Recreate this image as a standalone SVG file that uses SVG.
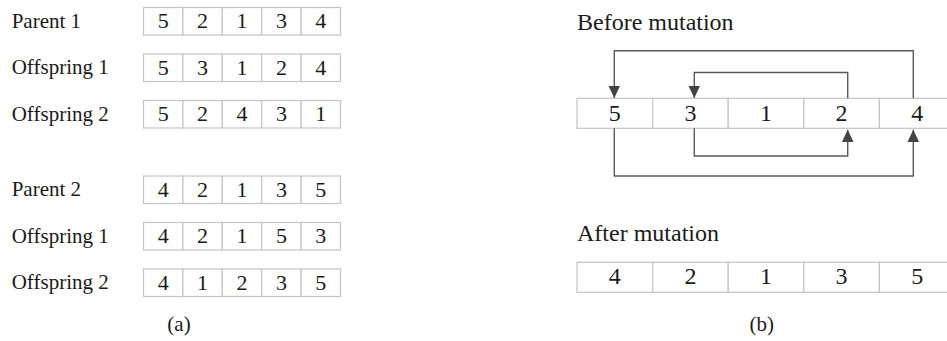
<svg xmlns="http://www.w3.org/2000/svg" width="947" height="341" viewBox="0 0 947 341">
<style>
text{font-family:"Liberation Serif","Times New Roman",serif;fill:#1a1a1a}
.lbl{font-size:21px}
.d{font-size:22px;text-anchor:middle}
.rd{font-size:24px;text-anchor:middle}
.title{font-size:24px}
.cap{font-size:21px;text-anchor:middle}
.cell{fill:#ffffff;stroke:#c4c4c4;stroke-width:1.2}
.conn{fill:none;stroke:#5a5a5a;stroke-width:1.4}
</style>
<defs>
<marker id="ah" markerUnits="userSpaceOnUse" markerWidth="13" markerHeight="12" refX="12.5" refY="6" orient="auto" viewBox="0 0 13 12">
<path d="M0,0 L12.5,6 L0,12 z" fill="#444"/>
</marker>
<g id="row5">
<rect class="cell" x="0" y="0" width="39.4" height="27.5"/>
<rect class="cell" x="39.4" y="0" width="39.4" height="27.5"/>
<rect class="cell" x="78.8" y="0" width="39.4" height="27.5"/>
<rect class="cell" x="118.2" y="0" width="39.4" height="27.5"/>
<rect class="cell" x="157.6" y="0" width="39.4" height="27.5"/>
</g>
<g id="rowR">
<rect class="cell" x="0" y="0" width="75.6" height="30"/>
<rect class="cell" x="75.6" y="0" width="75.6" height="30"/>
<rect class="cell" x="151.2" y="0" width="75.6" height="30"/>
<rect class="cell" x="226.8" y="0" width="75.6" height="30"/>
<rect class="cell" x="302.4" y="0" width="75.6" height="30"/>
</g>
</defs>

<g id="parent1">
<text class="lbl" x="11.7" y="27.8">Parent 1</text>
<use href="#row5" x="143.5" y="7.5"/>
<text class="d" y="28"><tspan x="163.2">5</tspan><tspan x="202.6">2</tspan><tspan x="242">1</tspan><tspan x="281.4">3</tspan><tspan x="320.8">4</tspan></text>
</g>
<g id="offspring1a">
<text class="lbl" x="11.7" y="74.3">Offspring 1</text>
<use href="#row5" x="143.5" y="54"/>
<text class="d" y="74.5"><tspan x="163.2">5</tspan><tspan x="202.6">3</tspan><tspan x="242">1</tspan><tspan x="281.4">2</tspan><tspan x="320.8">4</tspan></text>
</g>
<g id="offspring2a">
<text class="lbl" x="11.7" y="120.8">Offspring 2</text>
<use href="#row5" x="143.5" y="100.5"/>
<text class="d" y="121"><tspan x="163.2">5</tspan><tspan x="202.6">2</tspan><tspan x="242">4</tspan><tspan x="281.4">3</tspan><tspan x="320.8">1</tspan></text>
</g>
<g id="parent2">
<text class="lbl" x="11.7" y="196.3">Parent 2</text>
<use href="#row5" x="143.5" y="176"/>
<text class="d" y="196.5"><tspan x="163.2">4</tspan><tspan x="202.6">2</tspan><tspan x="242">1</tspan><tspan x="281.4">3</tspan><tspan x="320.8">5</tspan></text>
</g>
<g id="offspring1b">
<text class="lbl" x="11.7" y="242.8">Offspring 1</text>
<use href="#row5" x="143.5" y="222.5"/>
<text class="d" y="243"><tspan x="163.2">4</tspan><tspan x="202.6">2</tspan><tspan x="242">1</tspan><tspan x="281.4">5</tspan><tspan x="320.8">3</tspan></text>
</g>
<g id="offspring2b">
<text class="lbl" x="11.7" y="289.3">Offspring 2</text>
<use href="#row5" x="143.5" y="269"/>
<text class="d" y="289.5"><tspan x="163.2">4</tspan><tspan x="202.6">1</tspan><tspan x="242">2</tspan><tspan x="281.4">3</tspan><tspan x="320.8">5</tspan></text>
</g>
<g id="caption-a">
<text class="cap" x="179" y="331">(a)</text>
</g>

<g id="before">
<text class="title" x="577" y="30">Before mutation</text>
<use href="#rowR" x="577" y="98.3"/>
<text class="rd" y="120.5"><tspan x="614.8">5</tspan><tspan x="690.4">3</tspan><tspan x="766">1</tspan><tspan x="841.6">2</tspan><tspan x="917.2">4</tspan></text>
</g>
<g id="after">
<text class="title" x="577" y="240.5">After mutation</text>
<use href="#rowR" x="577" y="262.3"/>
<text class="rd" y="284.3"><tspan x="614.8">4</tspan><tspan x="690.4">2</tspan><tspan x="766">1</tspan><tspan x="841.6">3</tspan><tspan x="917.2">5</tspan></text>
</g>
<g id="caption-b">
<text class="cap" x="761.7" y="331">(b)</text>
</g>

<g id="connectors">
<path class="conn" d="M913.3,98.3 V50.7 H614.3 V98" marker-end="url(#ah)"/>
<path class="conn" d="M847.7,98.3 V72.5 H694.3 V98" marker-end="url(#ah)"/>
<path class="conn" d="M694.3,128.3 V156 H847.7 V129.8" marker-end="url(#ah)"/>
<path class="conn" d="M614.3,128.3 V176 H913.3 V129.8" marker-end="url(#ah)"/>
</g>
</svg>
